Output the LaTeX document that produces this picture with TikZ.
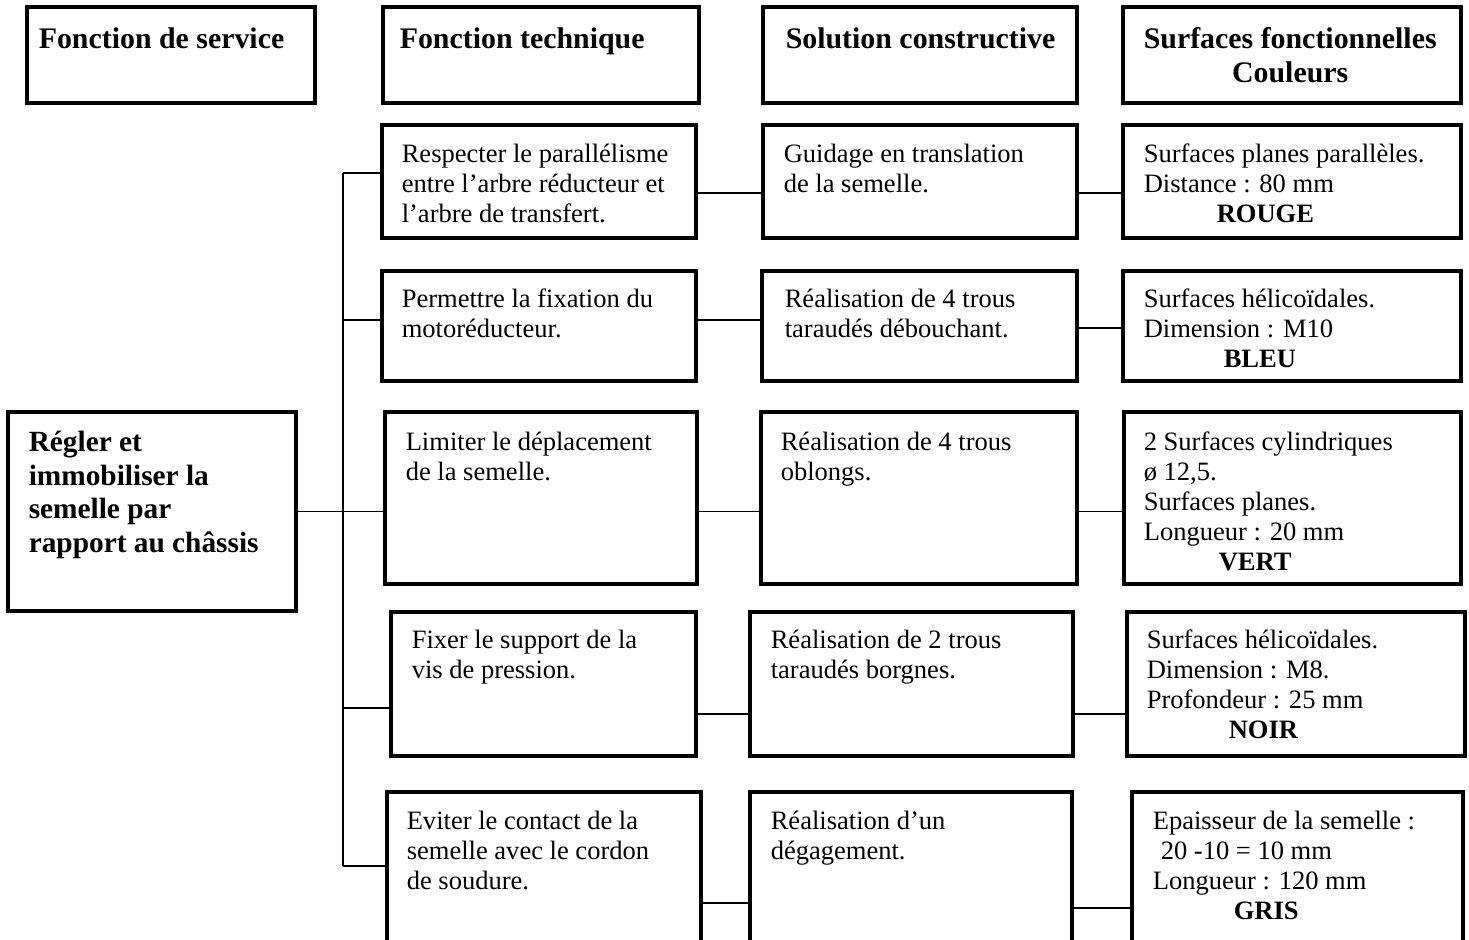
\documentclass[tikz,border=0pt]{standalone}
\usepackage{fontspec}
\setmainfont{Liberation Serif}
\usetikzlibrary{positioning, fit, calc}

\begin{document}
\begin{tikzpicture}[
    x=0.02cm, y=-0.02cm,
    % cadres
    cell/.style={rectangle, draw=black, line width=1.8pt, inner sep=0pt},
    % textes
    txt/.style={anchor=north west, inner sep=0pt, align=left, font=\fontsize{15.1}{17.07}\selectfont, execute at begin node=\strut},
    titre/.style={anchor=north west, inner sep=0pt, align=left, font=\fontsize{17}{19.3}\selectfont\bfseries, execute at begin node=\strut},
    % liaisons
    link/.style={draw=black, line width=1.1pt},
    spine/.style={draw=black, line width=1.7pt}
]
\useasboundingbox (0,0) rectangle (1469,939);
\clip (0,0) rectangle (1469,939);

% ====================
% En-tetes
% ====================
\node[cell, fit={(27,7) (315,103)}] (hfs) {};
\node[cell, fit={(383,7) (699,103)}] (hft) {};
\node[cell, fit={(763,7) (1077,103)}] (hsc) {};
\node[cell, fit={(1123,7) (1461,103)}] (hsf) {};

\node[titre] (hfsT) at ($(hfs.north west)+(13,19)$) {Fonction de service};
\node[titre] (hftT) at ($(hft.north west)+(18,19)$) {Fonction technique};
\node[titre] (hscT) at ($(hsc.north west)+(24,19)$) {Solution constructive};
\node[titre, align=center] (hsfT) at ($(hsf.north west)+(22,22)$) {Surfaces fonctionnelles\\Couleurs};

% ====================
% Fonction de service
% ====================
\node[cell, fit={(8,412) (296,611)}] (fs) {};
\node[titre, font=\fontsize{16.7}{19.3}\selectfont\bfseries] (fsT) at ($(fs.north west)+(22,20)$) {Régler et\\immobiliser la\\semelle par\\rapport au châssis};

% ====================
% Cadres des 5 lignes
% ====================
\node[cell, fit={(382,125) (696,238)}] (ft1) {};
\node[cell, fit={(763,125) (1077,238)}] (sc1) {};
\node[cell, fit={(1123,125) (1461,238)}] (sf1) {};

\node[cell, fit={(382,271) (696,381)}] (ft2) {};
\node[cell, fit={(762,271) (1077,381)}] (sc2) {};
\node[cell, fit={(1123,271) (1461,381)}] (sf2) {};

\node[cell, fit={(385,412) (697,584)}] (ft3) {};
\node[cell, fit={(761,412) (1077,584)}] (sc3) {};
\node[cell, fit={(1124,412) (1461,584)}] (sf3) {};

\node[cell, fit={(391,612) (696,756)}] (ft4) {};
\node[cell, fit={(750,612) (1073,756)}] (sc4) {};
\node[cell, fit={(1127,612) (1465,756)}] (sf4) {};

\node[cell, fit={(387,792) (701,960)}] (ft5) {};
\node[cell, fit={(750,792) (1072,960)}] (sc5) {};
\node[cell, fit={(1132,792) (1463,960)}] (sf5) {};

% ====================
% Textes
% ====================
\node[txt] (ft1T) at ($(ft1.north west)+(21,20)$) {Respecter le parallélisme\\entre l’arbre réducteur et\\l’arbre de transfert.};
\node[txt] (sc1T) at ($(sc1.north west)+(22,20)$) {Guidage en translation\\de la semelle.};
\node[txt] (sf1T) at ($(sf1.north west)+(22,20)$) {Surfaces planes parallèles.\\Distance : 80 mm\\\hspace*{1.46cm}\textbf{ROUGE}};

\node[txt] (ft2T) at ($(ft2.north west)+(21,19)$) {Permettre la fixation du\\motoréducteur.};
\node[txt] (sc2T) at ($(sc2.north west)+(24,19)$) {Réalisation de 4 trous\\taraudés débouchant.};
\node[txt] (sf2T) at ($(sf2.north west)+(22,19)$) {Surfaces hélicoïdales.\\Dimension : M10\\\hspace*{1.6cm}\textbf{BLEU}};

\node[txt] (ft3T) at ($(ft3.north west)+(22,21)$) {Limiter le déplacement\\de la semelle.};
\node[txt] (sc3T) at ($(sc3.north west)+(21,21)$) {Réalisation de 4 trous\\oblongs.};
\node[txt] (sf3T) at ($(sf3.north west)+(21,21)$) {2 Surfaces cylindriques\\ø 12,5.\\Surfaces planes.\\Longueur : 20 mm\\\hspace*{1.5cm}\textbf{VERT}};

\node[txt] (ft4T) at ($(ft4.north west)+(22,19)$) {Fixer le support de la\\vis de pression.};
\node[txt] (sc4T) at ($(sc4.north west)+(22,19)$) {Réalisation de 2 trous\\taraudés borgnes.};
\node[txt] (sf4T) at ($(sf4.north west)+(21,19)$) {Surfaces hélicoïdales.\\Dimension : M8.\\Profondeur : 25 mm\\\hspace*{1.64cm}\textbf{NOIR}};

\node[txt] (ft5T) at ($(ft5.north west)+(21,20)$) {Eviter le contact de la\\semelle avec le cordon\\de soudure.};
\node[txt] (sc5T) at ($(sc5.north west)+(22,20)$) {Réalisation d’un\\dégagement.};
\node[txt] (sf5T) at ($(sf5.north west)+(22,20)$) {Epaisseur de la semelle :\\\hspace*{0.16cm}20 -10 = 10 mm\\Longueur : 120 mm\\\hspace*{1.62cm}\textbf{GRIS}};

% ====================
% Liaisons
% ====================
\coordinate (r1) at (343,173);
\coordinate (r2) at (343,320);
\coordinate (r4) at (343,708);
\coordinate (r5) at (343,866);
\coordinate (l1) at (0,193);
\coordinate (l2) at (0,328);
\coordinate (l4) at (0,714);
\coordinate (l5) at (0,903);
\coordinate (m5) at (0,908);

\draw[spine] (r1) -- (r5);
\draw[link] (r1) -- (r1 -| ft1.west);
\draw[link] (r2) -- (r2 -| ft2.west);
\draw[link] (fs.east) -- (fs.east -| ft3.west);
\draw[link] (r4) -- (r4 -| ft4.west);
\draw[link] (r5) -- (r5 -| ft5.west);

\draw[link] (ft1.east |- l1) -- (sc1.west |- l1);
\draw[link] (sc1.east |- l1) -- (sf1.west |- l1);
\draw[link] (ft2.east |- r2) -- (sc2.west |- r2);
\draw[link] (sc2.east |- l2) -- (sf2.west |- l2);
\draw[link] (ft3.east |- fs.east) -- (sc3.west |- fs.east);
\draw[link] (sc3.east |- fs.east) -- (sf3.west |- fs.east);
\draw[link] (ft4.east |- l4) -- (sc4.west |- l4);
\draw[link] (sc4.east |- l4) -- (sf4.west |- l4);
\draw[link] (ft5.east |- l5) -- (sc5.west |- l5);
\draw[link] (sc5.east |- m5) -- (sf5.west |- m5);

\end{tikzpicture}
\end{document}
